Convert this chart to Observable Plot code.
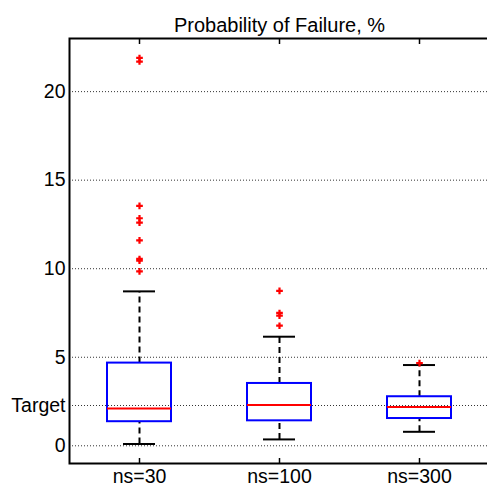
<!DOCTYPE html>
<html><head><meta charset="utf-8">
<script src="https://cdn.jsdelivr.net/npm/d3@7"></script>
<script src="https://cdn.jsdelivr.net/npm/@observablehq/plot@0.6"></script>
<style>html,body{margin:0;padding:0;background:#fff;overflow:hidden}</style>
</head><body><div id="chart"></div>
<script>
const categories = ["ns=30", "ns=100", "ns=300"];
const q1 = [1.36, 1.41, 1.54];
const median = [2.11, 2.30, 2.19];
const q3 = [4.67, 3.52, 2.77];
const whiskerLow = [0.10, 0.36, 0.79];
const whiskerHigh = [8.72, 6.16, 4.56];
const outliers30 = [21.9, 21.7, 13.55, 12.85, 12.6, 11.6, 10.55, 10.45, 9.85];
const outliers100 = [8.75, 7.5, 7.35, 6.78];
const outliers300 = [4.67];
const target = 2.275;
const gridValues = [0, target, 5, 10, 15, 20];
const tickLabels = ["0", "Target", "5", "10", "15", "20"];
const title = "Probability of Failure, %";

const outliers = [outliers30, outliers100, outliers300];
const boxes = categories.map((c, i) => ({cat: c, q1: q1[i], med: median[i], q3: q3[i], lo: whiskerLow[i], hi: whiskerHigh[i]}));
const outlierRows = categories.flatMap((c, i) => outliers[i].map(v => ({cat: c, value: v})));

const chart = Plot.plot({
  width: 487, height: 489,
  marginLeft: 69, marginRight: -2, marginTop: 38, marginBottom: 26,
  style: {fontFamily: "'Liberation Sans', Arial, sans-serif", background: "white", color: "black"},
  x: {type: "band", domain: categories, paddingInner: 0.5429, paddingOuter: 0.2714, align: 0.5},
  y: {domain: [-1, 23]},
  marks: [
    Plot.ruleY(gridValues, {stroke: "#333", strokeDasharray: "1,2", strokeWidth: 1}),
    Plot.ruleX(boxes, {x: "cat", y1: "q3", y2: "hi", stroke: "black", strokeWidth: 2, strokeDasharray: "6,4"}),
    Plot.ruleX(boxes, {x: "cat", y1: "lo", y2: "q1", stroke: "black", strokeWidth: 2, strokeDasharray: "6,4"}),
    Plot.tickY(boxes, {x: "cat", y: "hi", stroke: "black", strokeWidth: 2, insetLeft: 16, insetRight: 16}),
    Plot.tickY(boxes, {x: "cat", y: "lo", stroke: "black", strokeWidth: 2, insetLeft: 16, insetRight: 16}),
    Plot.barY(boxes, {x: "cat", y1: "q1", y2: "q3", fill: "none", stroke: "#0000ff", strokeWidth: 2}),
    Plot.tickY(boxes, {x: "cat", y: "med", stroke: "#ff0000", strokeWidth: 2}),
    Plot.dot(outlierRows, {x: "cat", y: "value", symbol: "cross", r: 2.8, fill: "#ff0000", stroke: "none"}),
    Plot.frame({stroke: "black", strokeWidth: 2}),
    Plot.axisY({ticks: gridValues, tickFormat: d => tickLabels[gridValues.indexOf(d)], tickSize: 0, tickPadding: 4, fontSize: 19.5, label: null}),
    Plot.axisX({anchor: "bottom", tickSize: 0, tickPadding: 6, fontSize: 19.5, label: null}),
    Plot.axisX({anchor: "bottom", tickSize: -5, tickFormat: () => "", strokeWidth: 1.5, label: null}),
    Plot.axisX({anchor: "top", tickSize: -5, tickFormat: () => "", strokeWidth: 1.5, label: null}),
    Plot.text([title], {text: d => d, frameAnchor: "top", dy: -20.4, fontSize: 20})
  ]
});
document.getElementById("chart").appendChild(chart);
</script>
</body></html>
